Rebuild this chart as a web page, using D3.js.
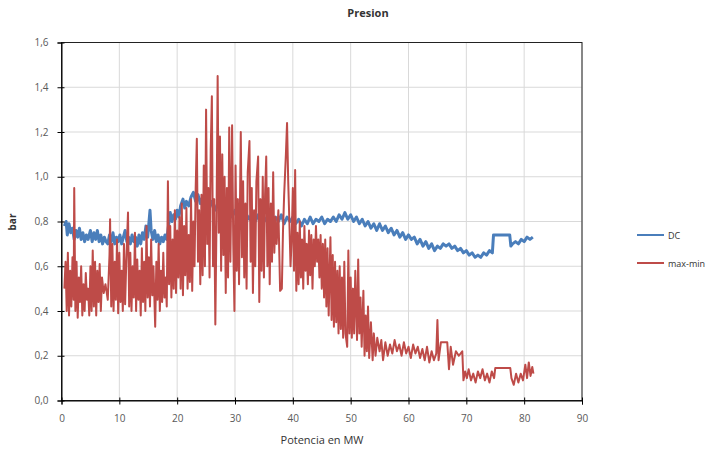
<!DOCTYPE html>
<html><head><meta charset="utf-8">
<script src="https://cdn.jsdelivr.net/npm/d3@7"></script>
<style>body{margin:0;background:#fff}svg{display:block}text{font-family:"Open Sans","DejaVu Sans",sans-serif}</style>
</head><body>
<svg id="c" width="723" height="450"></svg>
<script>
const title = "Presion";
const xLabel = "Potencia en MW";
const yLabel = "bar";
const seriesNames = ["DC", "max-min"];
const xTicks = [0,10,20,30,40,50,60,70,80,90];
const yTicks = [0,0.2,0.4,0.6,0.8,1.0,1.2,1.4,1.6];

const dcX = [0.5,0.8,1.0,1.3,1.6,1.9,2.2,2.5,2.8,3.1,3.4,3.7,4.0,4.3,4.6,5.0,5.3,5.6,5.9,6.2,6.5,6.8,7.1,7.4,7.7,8.0,8.3,8.6,8.9,9.2,9.5,9.8,10.1,10.4,10.7,11.0,11.3,11.6,11.9,12.2,12.5,12.8,13.1,13.4,13.7,14.0,14.3,14.6,14.9,15.3,15.5,15.8,16.1,16.4,16.7,17.0,17.3,17.6,17.9,18.2,18.5,18.8,19.1,19.4,19.7,20.0,20.3,20.6,21.0,21.3,21.6,22.0,22.4,22.8,23.2,23.6,24.0,24.4,24.8,25.2,25.6,26.0,26.5,27.0,27.5,28.0,28.5,29.0,29.5,30.0,30.5,31.0,31.5,32.0,32.5,33.0,33.5,34.0,34.5,35.0,35.5,36.0,36.5,37.0,37.5,38.0,38.5,39.0,39.5,40.0,40.5,41.0,41.5,42.0,42.5,43.0,43.5,44.0,44.5,45.0,45.5,46.0,46.5,47.0,47.5,48.0,48.5,49.0,49.5,50.0,50.5,51.0,51.5,52.0,52.5,53.0,53.5,54.0,54.5,55.0,55.5,56.0,56.5,57.0,57.5,58.0,58.5,59.0,59.5,60.0,60.5,61.0,61.5,62.0,62.5,63.0,63.5,64.0,64.5,65.0,65.5,66.0,66.5,67.0,67.5,68.0,68.5,69.0,69.5,70.0,70.5,71.0,71.5,72.0,72.5,73.0,73.5,74.0,74.5,74.7,76.0,77.5,77.7,78.0,78.5,79.0,79.5,80.0,80.5,81.0,81.5];
const dcY = [0.78,0.80,0.74,0.79,0.75,0.77,0.72,0.76,0.73,0.77,0.72,0.75,0.71,0.74,0.72,0.76,0.71,0.75,0.72,0.76,0.71,0.74,0.70,0.73,0.71,0.70,0.74,0.71,0.75,0.70,0.73,0.71,0.74,0.70,0.73,0.76,0.71,0.73,0.70,0.74,0.71,0.73,0.69,0.74,0.70,0.75,0.72,0.78,0.73,0.85,0.76,0.72,0.76,0.71,0.74,0.70,0.73,0.71,0.74,0.72,0.78,0.84,0.80,0.83,0.81,0.85,0.82,0.87,0.90,0.86,0.89,0.87,0.91,0.93,0.89,0.92,0.88,0.91,0.87,0.90,0.86,0.89,0.85,0.88,0.84,0.87,0.83,0.86,0.82,0.85,0.81,0.84,0.80,0.83,0.81,0.84,0.80,0.83,0.79,0.82,0.80,0.83,0.79,0.82,0.80,0.83,0.79,0.82,0.80,0.82,0.79,0.81,0.78,0.81,0.79,0.82,0.79,0.81,0.80,0.82,0.79,0.81,0.80,0.82,0.80,0.83,0.81,0.84,0.81,0.83,0.80,0.82,0.79,0.81,0.78,0.80,0.77,0.79,0.76,0.79,0.76,0.78,0.75,0.77,0.74,0.76,0.73,0.75,0.72,0.74,0.72,0.73,0.70,0.72,0.69,0.71,0.68,0.70,0.67,0.69,0.68,0.70,0.69,0.70,0.68,0.69,0.67,0.68,0.66,0.67,0.65,0.66,0.64,0.65,0.64,0.66,0.65,0.67,0.66,0.74,0.74,0.74,0.69,0.70,0.71,0.70,0.72,0.71,0.73,0.72,0.73];

const mmX = [0.5,0.7,0.9,1.1,1.3,1.5,1.7,1.9,2.1,2.2,2.4,2.6,2.8,3.0,3.2,3.4,3.6,3.8,4.0,4.2,4.4,4.6,4.8,5.0,5.2,5.4,5.6,5.8,6.0,6.2,6.4,6.6,6.8,7.0,7.3,7.6,8.0,8.3,8.4,8.6,8.8,9.0,9.2,9.4,9.6,9.8,10.0,10.2,10.4,10.6,10.8,11.0,11.2,11.5,11.7,11.9,12.1,12.3,12.5,12.7,12.9,13.1,13.3,13.5,13.7,13.9,14.1,14.3,14.5,14.7,14.9,15.1,15.3,15.5,15.7,15.9,16.2,16.4,16.6,16.8,17.0,17.2,17.4,17.6,17.8,18.0,18.2,18.4,18.6,18.8,19.0,19.2,19.4,19.6,19.8,20.0,20.2,20.4,20.6,20.8,21.0,21.2,21.4,21.6,21.8,22.0,22.2,22.4,22.6,22.8,23.0,23.2,23.4,23.6,23.8,24.0,24.2,24.4,24.6,24.8,25.0,25.2,25.4,25.6,25.8,26.0,26.2,26.4,26.6,26.8,27.0,27.2,27.4,27.6,27.8,28.0,28.2,28.4,28.6,28.8,29.0,29.2,29.5,29.7,29.9,30.1,30.3,30.5,30.7,31.0,31.2,31.4,31.6,31.8,32.0,32.2,32.5,32.7,32.9,33.1,33.3,33.5,33.7,34.0,34.2,34.4,34.6,34.8,35.0,35.2,35.4,35.6,35.8,36.0,36.2,36.4,36.6,36.8,37.0,37.2,37.5,37.8,38.1,38.3,38.5,38.8,39.0,39.2,39.4,39.6,39.8,40.0,40.2,40.4,40.6,40.8,41.0,41.2,41.4,41.6,41.8,42.0,42.2,42.4,42.6,42.8,43.0,43.2,43.4,43.6,43.8,44.0,44.2,44.4,44.6,44.8,45.0,45.2,45.4,45.6,45.8,46.0,46.2,46.5,46.7,46.9,47.1,47.3,47.5,47.7,47.9,48.1,48.3,48.5,48.7,48.9,49.1,49.4,49.6,49.8,50.0,50.2,50.4,50.6,50.8,51.1,51.3,51.5,51.7,51.9,52.2,52.4,52.6,52.8,53.0,53.2,53.5,53.8,54.0,54.3,54.6,55.0,55.3,55.6,56.0,56.4,56.8,57.2,57.6,58.0,58.4,58.8,59.2,59.6,60.0,60.4,60.8,61.2,61.6,62.0,62.4,62.8,63.2,63.6,64.0,64.4,64.8,65.0,65.2,65.6,66.0,66.7,67.0,67.3,67.7,68.2,68.7,69.3,69.5,69.8,70.1,70.4,70.8,71.2,71.6,72.0,72.4,72.8,73.2,73.6,74.0,74.4,74.8,75.0,76.5,77.6,77.8,78.2,78.6,79.0,79.4,79.8,80.2,80.5,80.8,81.1,81.4,81.6];
const mmY = [0.50,0.62,0.40,0.66,0.38,0.58,0.42,0.64,0.45,0.95,0.40,0.62,0.37,0.55,0.44,0.60,0.38,0.52,0.40,0.57,0.45,0.50,0.38,0.60,0.40,0.67,0.42,0.62,0.38,0.58,0.44,0.61,0.40,0.55,0.48,0.52,0.45,0.65,0.81,0.42,0.70,0.40,0.62,0.45,0.72,0.39,0.66,0.44,0.58,0.40,0.70,0.43,0.62,0.84,0.42,0.66,0.40,0.60,0.46,0.75,0.40,0.63,0.45,0.58,0.38,0.68,0.44,0.62,0.40,0.78,0.46,0.64,0.42,0.72,0.47,0.60,0.33,0.62,0.45,0.70,0.40,0.58,0.44,0.66,0.46,0.55,0.42,0.98,0.52,0.78,0.46,0.72,0.50,0.85,0.48,0.76,0.55,0.82,0.50,0.88,0.47,0.78,0.56,0.86,0.50,0.74,0.53,0.90,0.49,0.80,0.60,0.95,1.17,0.62,0.85,0.52,0.92,0.56,1.05,0.60,1.30,0.70,0.95,0.55,1.12,1.36,0.60,0.90,0.34,0.80,1.45,0.75,1.18,0.58,1.10,0.65,1.00,0.48,0.95,0.55,1.22,0.62,1.23,0.70,0.40,1.05,0.58,0.90,0.52,1.20,0.64,0.98,0.55,0.88,0.50,1.02,1.16,0.62,0.95,0.48,0.85,0.60,0.98,1.09,0.44,0.90,0.58,1.00,0.55,0.92,1.09,0.60,0.95,0.52,0.88,0.62,1.02,0.66,0.82,0.70,0.85,0.49,0.50,0.76,0.92,1.10,1.24,0.98,0.80,0.60,0.72,0.95,0.58,1.03,0.49,0.75,0.52,0.80,0.55,0.72,0.50,0.78,0.58,0.70,0.52,0.76,0.56,0.74,0.50,0.72,0.60,0.78,0.62,0.72,0.55,0.74,0.50,0.70,0.46,0.72,0.42,0.68,0.38,0.73,0.36,0.65,0.33,0.62,0.35,0.58,0.30,0.60,0.32,0.55,0.28,0.62,0.30,0.24,0.67,0.30,0.55,0.28,0.50,0.30,0.58,0.27,0.63,0.30,0.46,0.24,0.49,0.20,0.38,0.22,0.42,0.19,0.35,0.18,0.30,0.20,0.28,0.22,0.27,0.18,0.26,0.20,0.25,0.21,0.27,0.22,0.25,0.20,0.26,0.21,0.24,0.19,0.25,0.21,0.24,0.19,0.23,0.18,0.24,0.17,0.22,0.18,0.21,0.36,0.18,0.26,0.26,0.26,0.14,0.24,0.16,0.22,0.20,0.22,0.09,0.13,0.10,0.14,0.09,0.12,0.08,0.13,0.10,0.14,0.09,0.12,0.08,0.13,0.10,0.145,0.145,0.145,0.10,0.07,0.12,0.08,0.12,0.09,0.16,0.10,0.17,0.11,0.15,0.12];

const colors = ["#4a7ebb", "#be4b48"];

const svg = d3.select("#c");
const m = {left: 61.5, right: 582, top: 42.5, bottom: 400.5};
const x = d3.scaleLinear().domain([0, 90]).range([m.left, m.right]);
const y = d3.scaleLinear().domain([0, 1.6]).range([m.bottom, m.top]);
const fmtY = v => d3.format(".1f")(v).replace(".", ",");

// gridlines
svg.append("g").selectAll("line").data(xTicks).join("line")
  .attr("x1", d => x(d)).attr("x2", d => x(d)).attr("y1", m.top).attr("y2", m.bottom)
  .attr("stroke", "#d9d9d9").attr("stroke-width", 1);
svg.append("g").selectAll("line").data(yTicks).join("line")
  .attr("x1", m.left).attr("x2", m.right).attr("y1", d => y(d)).attr("y2", d => y(d))
  .attr("stroke", "#d9d9d9").attr("stroke-width", 1);

// series
const line = d3.line().x(d => x(d[0])).y(d => y(d[1]));
const dcData = dcX.map((v, i) => [v, dcY[i]]);
const mmData = mmX.map((v, i) => [v, mmY[i]]);
svg.append("path").datum(dcData).attr("d", line).attr("fill", "none")
  .attr("stroke", colors[0]).attr("stroke-width", 3).attr("stroke-linejoin", "round");
svg.append("path").datum(mmData).attr("d", line).attr("fill", "none")
  .attr("stroke", colors[1]).attr("stroke-width", 2).attr("stroke-linejoin", "round");

// frame
svg.append("rect").attr("x", m.left).attr("y", m.top).attr("width", m.right - m.left).attr("height", m.bottom - m.top)
  .attr("fill", "none").attr("stroke", "#222").attr("stroke-width", 1);

// axes
const xAxis = svg.append("g").attr("transform", `translate(0,${m.bottom})`)
  .call(d3.axisBottom(x).tickValues(xTicks).tickSize(4).tickPadding(10).tickFormat(d3.format("d")));
const yAxis = svg.append("g").attr("transform", `translate(${m.left},0)`)
  .call(d3.axisLeft(y).tickValues(yTicks).tickSize(4).tickPadding(9).tickFormat(fmtY));
[xAxis, yAxis].forEach(g => {
  g.select(".domain").attr("stroke", "#000");
  g.selectAll(".tick line").attr("stroke", "#000");
  g.selectAll("text").attr("fill", "#595959").attr("font-size", 10);
});
xAxis.selectAll(".tick line").attr("y1", -3).attr("y2", 4);
yAxis.selectAll(".tick line").attr("x1", 3).attr("x2", -4);

// titles
svg.append("text").attr("x", 368).attr("y", 17).attr("text-anchor", "middle")
  .attr("font-size", 11).attr("font-weight", "bold").attr("fill", "#333").text(title);
svg.append("text").attr("x", 322).attr("y", 444).attr("text-anchor", "middle")
  .attr("font-size", 11).attr("fill", "#333").text(xLabel);
svg.append("text").attr("transform", "translate(16,222) rotate(-90)").attr("text-anchor", "middle")
  .attr("font-size", 10).attr("font-weight", "bold").attr("fill", "#333").text(yLabel);

// legend
const leg = svg.append("g").selectAll("g").data(seriesNames).join("g")
  .attr("transform", (d, i) => `translate(637,${235 + i * 28})`);
leg.append("line").attr("x1", 0).attr("x2", 27).attr("stroke", (d, i) => colors[i]).attr("stroke-width", 2);
leg.append("text").attr("x", 31).attr("y", 3.5).attr("font-size", 9).attr("fill", "#333").text(d => d);
</script>
</body></html>
